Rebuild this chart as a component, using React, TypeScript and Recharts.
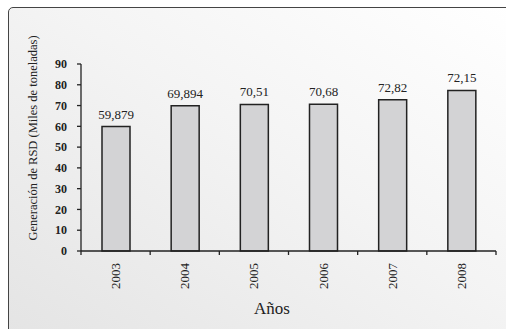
import React from 'react';
import { BarChart, Bar, XAxis, YAxis, LabelList } from 'recharts';

// Datos
const years = ['2003', '2004', '2005', '2006', '2007', '2008'];
const generation = [59.879, 69.894, 70.51, 70.68, 72.82, 77.3];
const valueLabels = ['59,879', '69,894', '70,51', '70,68', '72,82', '72,15'];
const yTicks = [0, 10, 20, 30, 40, 50, 60, 70, 80, 90];

const data = years.map((year, i) => ({ year, value: generation[i], label: valueLabels[i] }));

const FONT = "'Liberation Serif', 'Times New Roman', serif";
const INK = '#222222';

function YearTick(props: any) {
  const { x, y, payload, index, visibleTicksCount } = props;
  const half = payload?.offset ?? 0;
  const isLast = index === (visibleTicksCount ?? years.length) - 1;
  return (
    <g>
      <line x1={x - half} y1={y} x2={x - half} y2={y + 4} stroke={INK} strokeWidth={1.3} />
      {isLast && <line x1={x + half} y1={y} x2={x + half} y2={y + 4} stroke={INK} strokeWidth={1.3} />}
      <text
        x={x}
        y={y + 12}
        transform={`rotate(-90 ${x} ${y + 12})`}
        textAnchor="end"
        dominantBaseline="central"
        fontFamily={FONT}
        fontSize={13}
        fill={INK}
      >
        {payload.value}
      </text>
    </g>
  );
}

export default function App() {
  return (
    <div style={{ position: 'fixed', left: 0, top: 0, width: 506, height: 329, overflow: 'hidden', background: '#fff' }}>
      <div
        style={{
          position: 'absolute', left: 8, top: 7, width: 510, height: 330,
          border: '1.5px solid #444', borderRadius: 5, boxSizing: 'border-box',
          background: 'linear-gradient(to bottom left, #ffffff 0%, #f4f4f4 45%, #e4e4e4 100%)',
        }}
      />
      <div style={{ position: 'absolute', left: 0, top: 0 }}>
        <BarChart width={506} height={329} data={data} margin={{ top: 64, right: 10, bottom: 0, left: 0 }} barSize={28}>
          <XAxis
            dataKey="year"
            height={78}
            tickSize={0}
            tickMargin={0}
            tickLine={false}
            axisLine={{ stroke: INK, strokeWidth: 1.3 }}
            tick={<YearTick />}
            interval={0}
            label={{
              content: () => (
                <text x={272} y={308} textAnchor="middle" dominantBaseline="central" fontFamily={FONT} fontSize={17} fill={INK}>
                  Años
                </text>
              ),
            }}
          />
          <YAxis
            width={81}
            domain={[0, 90]}
            ticks={yTicks}
            interval={0}
            tickSize={4}
            tickMargin={10}
            axisLine={{ stroke: INK, strokeWidth: 1.3 }}
            tickLine={{ stroke: INK, strokeWidth: 1.3 }}
            tick={{ fontFamily: FONT, fontSize: 12, fill: INK, fontWeight: 'bold' }}
            label={{
              content: () => (
                <text
                  x={33}
                  y={138}
                  transform="rotate(-90 33 138)"
                  textAnchor="middle"
                  dominantBaseline="central"
                  fontFamily={FONT}
                  fontSize={12.5}
                  fill={INK}
                >
                  Generación de RSD (Miles de toneladas)
                </text>
              ),
            }}
          />
          <Bar dataKey="value" fill="#d3d3d5" stroke={INK} strokeWidth={1.5} isAnimationActive={false}>
            <LabelList dataKey="label" position="top" offset={8} fontFamily={FONT} fontSize={13} fill={INK} />
          </Bar>
        </BarChart>
      </div>
    </div>
  );
}
